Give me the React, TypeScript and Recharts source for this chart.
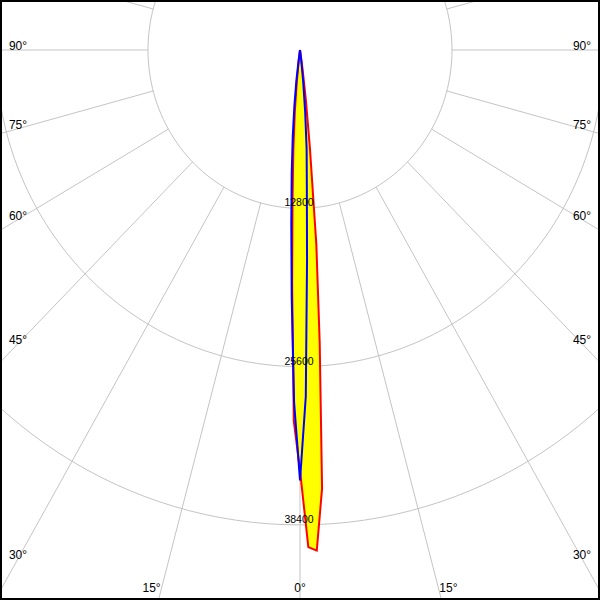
import React from 'react';
import { ScatterChart, Scatter, XAxis, YAxis } from 'recharts';

// ---- data ----
const radiusTicks = [12800, 25600, 38400];
const spokeAngles = [0, 15, 30, 45, 60, 75, 90, 105, 120, 135, 150, 165, 180, 195, 210, 225, 240, 255, 270, 285, 300, 315, 330, 345];
const labelAngles = [-90, -75, -60, -45, -30, -15, 0, 15, 30, 45, 60, 75, 90];

const lobeAngles = [-9, -8, -7, -6, -5, -4, -3, -2, -1, 0, 1, 2, 3, 4, 5, 6, 7, 8, 9, 10];
const redIntensity = [0, 0, 800, 2500, 5000, 8000, 12000, 19000, 30000, 34000, 40200, 40500, 35500, 23800, 15800, 8000, 4000, 1500, 400, 0];
const blueIntensity = [0, 800, 2500, 4500, 7000, 10000, 14000, 20000, 28500, 34800, 28000, 17000, 11000, 8000, 5000, 2500, 800, 0, 0, 0];

// ---- view (layout) ----
const W = 600;
const H = 600;
const PX_X = 152 / 12800; // px per cd horizontally
const PX_Y = 158.3 / 12800; // px per cd vertically
const CX = 300;
const CY = 50;
const X_DOMAIN: [number, number] = [-CX / PX_X, (W - CX) / PX_X];
const Y_DOMAIN: [number, number] = [-(H - CY) / PX_Y, CY / PX_Y];
const SPOKE_END = 90000;
const LABEL_INSET_X = 18;
const LABEL_INSET_Y = 12;

const rad = (d: number) => (d * Math.PI) / 180;
const polar = (deg: number, r: number) => ({ x: r * Math.sin(rad(deg)), y: -r * Math.cos(rad(deg)) });

const circleData = radiusTicks.map((r) => {
  const pts = [] as { x: number; y: number }[];
  for (let d = 0; d <= 360; d += 2) pts.push(polar(d, r));
  return pts;
});

const spokeData = spokeAngles.map((a) => [polar(a, radiusTicks[0]), polar(a, SPOKE_END)]);

const redData = lobeAngles.map((a, i) => polar(a, redIntensity[i]));
const blueData = lobeAngles.map((a, i) => polar(a, blueIntensity[i]));

const radiusLabelData = radiusTicks.map((r) => ({ ...polar(0, r), label: String(r) }));

const xLim = (CX - LABEL_INSET_X) / PX_X;
const yLim = (H - LABEL_INSET_Y - CY) / PX_Y;
const angleLabelData = labelAngles.map((a) => {
  const s = Math.abs(Math.sin(rad(a)));
  const c = Math.cos(rad(a));
  const t1 = s > 1e-9 ? xLim / s : Infinity;
  const t2 = c > 1e-9 ? yLim / c : Infinity;
  const t = Math.min(t1, t2);
  return { ...polar(a, t), label: `${Math.abs(a)}°`, angle: a, kind: t1 <= t2 ? 'side' : 'bottom' };
});

const NoShape = () => <g />;

const AngleLabel = (p: any) => {
  const { cx, cy, payload } = p;
  let dx = 0;
  let dy = 0;
  if (payload.kind === 'side') dy = -4;
  else dx = payload.angle < 0 ? -10 : payload.angle > 0 ? 10 : 0;
  return (
    <text x={cx + dx} y={cy + dy} textAnchor="middle" dominantBaseline="central" fontFamily="Liberation Sans, Arial, sans-serif" fontSize={12} fill="#000">
      {payload.label}
    </text>
  );
};

const RadiusLabel = (p: any) => {
  const { cx, cy, payload } = p;
  return (
    <text x={cx - 1} y={cy - 2} textAnchor="middle" fontFamily="Liberation Sans, Arial, sans-serif" fontSize={10.5} fill="#000">
      {payload.label}
    </text>
  );
};

const gridLine = { stroke: '#c4c4c4', strokeWidth: 1, fill: 'none' };

export default function App() {
  return (
    <div style={{ position: 'absolute', left: 0, top: 0, width: W, height: H, background: '#fff' }}>
      <ScatterChart width={W} height={H} margin={{ top: 0, right: 0, bottom: 0, left: 0 }}>
        <XAxis type="number" dataKey="x" domain={X_DOMAIN} allowDataOverflow hide />
        <YAxis type="number" dataKey="y" domain={Y_DOMAIN} allowDataOverflow hide />
        {circleData.map((pts, i) => (
          <Scatter key={`c${i}`} data={pts} line={gridLine} lineJointType="linear" shape={NoShape} isAnimationActive={false} legendType="none" />
        ))}
        {spokeData.map((pts, i) => (
          <Scatter key={`s${i}`} data={pts} line={gridLine} lineJointType="linear" shape={NoShape} isAnimationActive={false} legendType="none" />
        ))}
        <Scatter
          data={redData}
          line={{ stroke: '#ff0000', strokeWidth: 2, fill: '#ffff00', strokeLinejoin: 'miter' }}
          lineJointType="linear"
          shape={NoShape}
          isAnimationActive={false}
          legendType="none"
        />
        <Scatter
          data={blueData}
          line={{ stroke: '#0000ff', strokeWidth: 2, fill: 'none', strokeLinejoin: 'miter' }}
          lineJointType="linear"
          shape={NoShape}
          isAnimationActive={false}
          legendType="none"
        />
        <Scatter data={radiusLabelData} shape={RadiusLabel} isAnimationActive={false} legendType="none" />
        <Scatter data={angleLabelData} shape={AngleLabel} isAnimationActive={false} legendType="none" />
      </ScatterChart>
      <div
        style={{
          position: 'absolute',
          left: 0,
          top: 0,
          width: W,
          height: H,
          boxSizing: 'border-box',
          border: '2px solid #000',
          pointerEvents: 'none',
        }}
      />
    </div>
  );
}
